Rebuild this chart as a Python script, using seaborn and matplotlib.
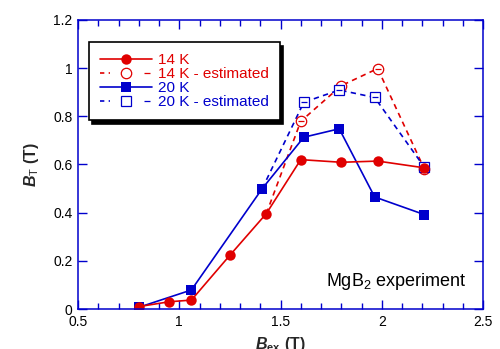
import matplotlib
matplotlib.use("Agg")
import matplotlib.pyplot as plt
import seaborn as sns
from matplotlib.lines import Line2D
from matplotlib.legend_handler import HandlerTuple
from matplotlib.ticker import MultipleLocator

# ---- data ----
x14 = [0.80, 0.95, 1.06, 1.25, 1.43, 1.60, 1.80, 1.98, 2.21]
y14 = [0.010, 0.030, 0.037, 0.223, 0.396, 0.620, 0.609, 0.614, 0.586]
x14e = [1.43, 1.60, 1.80, 1.98, 2.21]
y14e = [0.396, 0.779, 0.927, 0.998, 0.582]
x20 = [0.80, 1.06, 1.41, 1.615, 1.79, 1.965, 2.21]
y20 = [0.007, 0.079, 0.500, 0.713, 0.748, 0.465, 0.392]
x20e = [1.41, 1.615, 1.79, 1.965, 2.21]
y20e = [0.500, 0.858, 0.909, 0.878, 0.589]
labels = ["14 K", "14 K - estimated", "20 K", "20 K - estimated"]
xticks = [0.5, 1, 1.5, 2, 2.5]
yticks = [0, 0.2, 0.4, 0.6, 0.8, 1, 1.2]

RED = "#e00000"
BLUE = "#0000cc"

sns.set_style("ticks")
plt.rcParams["font.family"] = ["Liberation Sans", "DejaVu Sans"]
plt.rcParams["mathtext.fontset"] = "custom"
plt.rcParams["mathtext.rm"] = "Liberation Sans"
plt.rcParams["mathtext.it"] = "Liberation Sans:italic"
plt.rcParams["mathtext.bf"] = "Liberation Sans:bold"
plt.rcParams["mathtext.bfit"] = "Liberation Sans:bold:italic"

fig = plt.figure(figsize=(5.0, 3.49), dpi=100)
ax = fig.add_axes([0.156, 0.1146, 0.81, 0.8284])

LW = 1.2
DASH = (0, (3.2, 2.6))
MS_C = 7.5
MS_S = 7.5
MEW = 0.9

# estimated dashed lines (behind)
sns.lineplot(x=x14e, y=y14e, ax=ax, color=RED, lw=LW, linestyle=DASH, sort=False)
sns.lineplot(x=x20e, y=y20e, ax=ax, color=BLUE, lw=LW, linestyle=DASH, sort=False)
# open markers with a bar inside
sns.lineplot(x=x14e[1:], y=y14e[1:], ax=ax, color=RED, linestyle="none", marker="o",
             markersize=MS_C, markerfacecolor="white", markeredgecolor=RED,
             markeredgewidth=MEW, sort=False)
sns.lineplot(x=x14e[1:], y=y14e[1:], ax=ax, color=RED, linestyle="none", marker="_",
             markersize=5, markeredgecolor=RED, markeredgewidth=MEW, sort=False)
sns.lineplot(x=x20e[1:], y=y20e[1:], ax=ax, color=BLUE, linestyle="none", marker="s",
             markersize=MS_S, markerfacecolor="white", markeredgecolor=BLUE,
             markeredgewidth=MEW, sort=False)
sns.lineplot(x=x20e[1:], y=y20e[1:], ax=ax, color=BLUE, linestyle="none", marker="_",
             markersize=5, markeredgecolor=BLUE, markeredgewidth=MEW, sort=False)
# measured
sns.lineplot(x=x20, y=y20, ax=ax, color=BLUE, lw=LW, marker="s", markersize=MS_S,
             markeredgewidth=0, sort=False)
sns.lineplot(x=x14, y=y14, ax=ax, color=RED, lw=LW, marker="o", markersize=MS_C,
             markeredgewidth=0, sort=False)

ax.set_xlim(0.5, 2.5)
ax.set_ylim(0, 1.2)
ax.set_xticks(xticks)
ax.set_xticklabels(["0.5", "1", "1.5", "2", "2.5"])
ax.set_yticks(yticks)
ax.set_yticklabels(["0", "0.2", "0.4", "0.6", "0.8", "1", "1.2"])
ax.xaxis.set_minor_locator(MultipleLocator(0.1))

for s in ax.spines.values():
    s.set_visible(True)
    s.set_color(BLUE)
    s.set_linewidth(1.1)
ax.tick_params(which="both", direction="in", colors=BLUE, labelcolor="black",
               top=True, right=True, labelsize=10, width=1.0)
ax.tick_params(which="major", length=6.5, pad=4)
ax.tick_params(which="minor", length=4)

ax.set_xlabel(r"$\mathbfit{B}_{\mathbf{ex}}$ (T)", fontsize=11.5, fontweight="bold", labelpad=4.5)
ax.set_ylabel(r"$\mathbfit{B}_{\mathrm{T}}$ (T)", fontsize=11.5, fontweight="bold", labelpad=9)

ax.text(0.96, 0.058, r"MgB$_2$ experiment", transform=ax.transAxes, ha="right",
        va="bottom", fontsize=13, color="black")

# legend
h14 = Line2D([], [], color=RED, lw=LW, marker="o", markersize=MS_C, markeredgewidth=0)
h14e = (Line2D([], [], color=RED, lw=LW, linestyle=(0, (2.6, 2.6))),
        Line2D([], [], color=RED, linestyle="none", marker="o", markersize=MS_C,
               markerfacecolor="white", markeredgecolor=RED, markeredgewidth=MEW),
        Line2D([], [], color=RED, linestyle="none", marker="_", markersize=5,
               markeredgecolor=RED, markeredgewidth=MEW))
h20 = Line2D([], [], color=BLUE, lw=LW, marker="s", markersize=MS_S, markeredgewidth=0)
h20e = (Line2D([], [], color=BLUE, lw=LW, linestyle=(0, (2.6, 2.6))),
        Line2D([], [], color=BLUE, linestyle="none", marker="s", markersize=MS_S,
               markerfacecolor="white", markeredgecolor=BLUE, markeredgewidth=MEW),
        Line2D([], [], color=BLUE, linestyle="none", marker="_", markersize=5,
               markeredgecolor=BLUE, markeredgewidth=MEW))
leg = ax.legend([h14, h14e, h20, h20e], labels, loc="upper left",
                bbox_to_anchor=(0.027, 0.922), borderaxespad=0, fontsize=11,
                handlelength=3.4, handletextpad=0.4, labelspacing=0.0,
                borderpad=0.72, fancybox=False, framealpha=1,
                shadow={"color": "black", "alpha": 1.0, "ox": 2.5, "oy": -2.5},
                handler_map={tuple: HandlerTuple(ndivide=None)})
leg.get_frame().set_edgecolor("black")
leg.get_frame().set_linewidth(1.2)
for t, c in zip(leg.get_texts(), [RED, RED, BLUE, BLUE]):
    t.set_color(c)

fig.savefig("out.png", dpi=100)
